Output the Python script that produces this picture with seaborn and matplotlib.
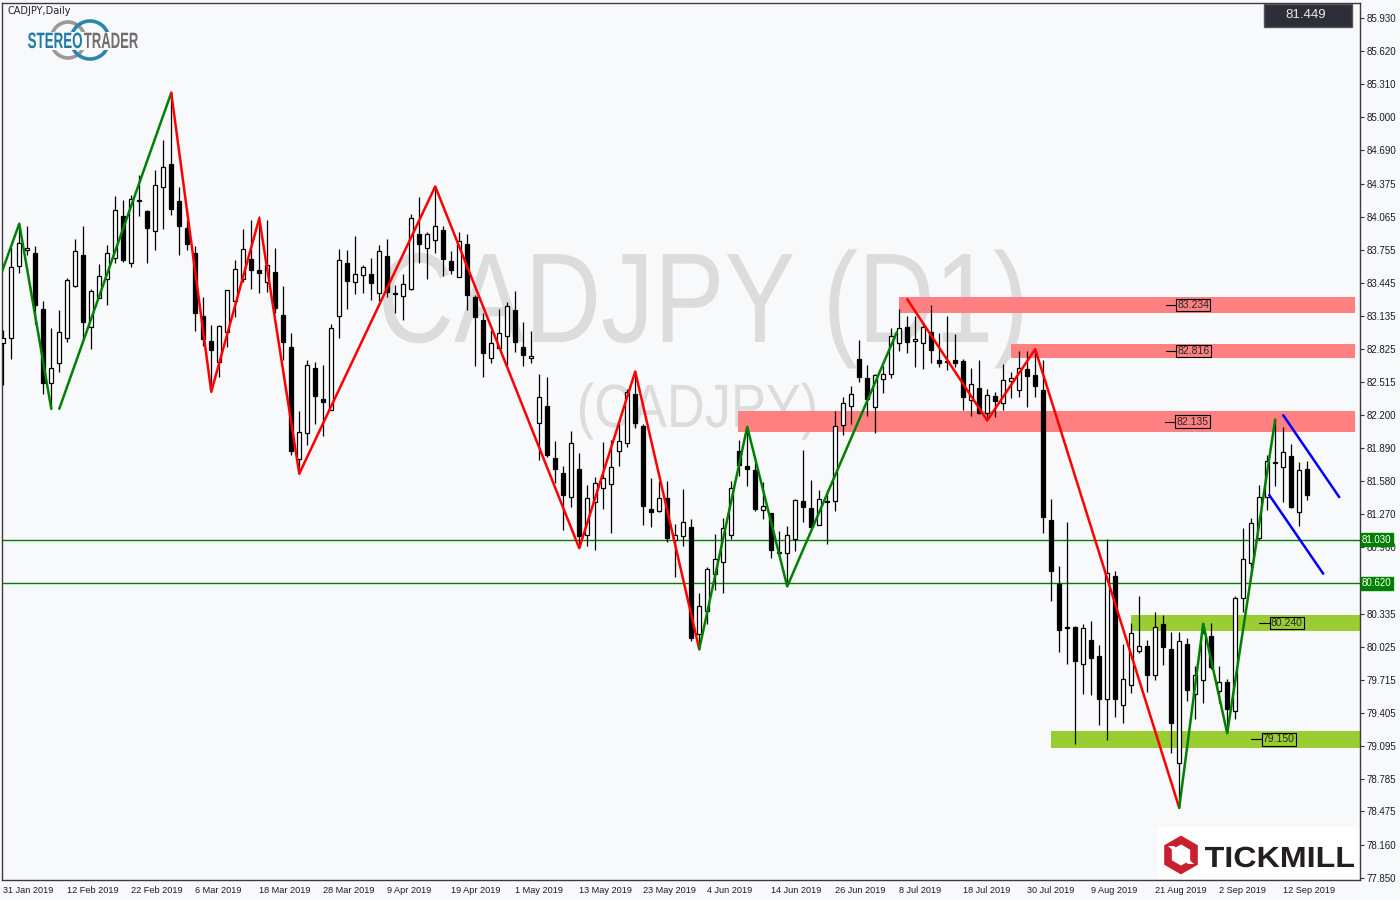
import numpy as np
import pandas as pd
import seaborn as sns
import matplotlib.pyplot as plt
from matplotlib.textpath import TextPath
from matplotlib.font_manager import FontProperties
from matplotlib.patches import PathPatch, Rectangle, Ellipse, Polygon
from matplotlib.transforms import Affine2D, blended_transform_factory

# ---- daily CADJPY candles, 31 Jan 2019 .. 17 Sep 2019 ----
opens = [82.88, 82.93, 83.60, 83.75, 83.72, 83.20, 82.50, 82.69, 82.93, 83.41,
         83.71, 83.03, 83.30, 83.48, 83.68, 84.07, 83.63, 84.21, 84.12, 83.93,
         84.34, 84.56, 84.21, 83.96, 83.72, 83.13, 82.90, 82.70, 82.98, 83.27,
         83.48, 83.67, 83.56, 83.45, 83.55, 83.14, 82.84, 81.79, 82.03, 82.64,
         82.35, 82.25, 83.13, 83.63, 83.45, 83.52, 83.53, 83.35, 83.70, 83.35,
         83.32, 83.39, 83.90, 83.77, 83.85, 83.94, 83.65, 83.50, 83.81, 83.31,
         83.09, 82.74, 82.83, 82.94, 83.19, 82.84, 82.74, 82.13, 82.29, 81.80,
         81.66, 81.43, 81.69, 81.07, 81.38, 81.52, 81.55, 81.86, 81.94, 82.40,
         82.10, 81.32, 81.30, 81.42, 81.03, 81.06, 81.15, 80.14, 80.36, 80.71,
         80.82, 81.07, 81.86, 81.72, 81.68, 81.31, 81.28, 80.91, 80.90, 81.04,
         81.39, 81.33, 81.17, 81.39, 81.39, 82.11, 82.29, 82.73, 82.55, 82.28,
         82.54, 82.59, 82.88, 83.03, 82.90, 82.88, 82.98, 82.72, 82.71, 82.72,
         82.71, 82.34, 82.46, 82.22, 82.38, 82.31, 82.52, 82.44, 82.63, 82.58,
         82.44, 81.21, 80.61, 80.21, 80.21, 79.86, 80.09, 79.94, 79.53, 80.69,
         79.48, 79.66, 79.98, 80.03, 79.76, 80.24, 80.00, 78.93, 80.05, 79.58,
         79.71, 80.12, 79.61, 79.69, 79.42, 80.48, 80.81, 81.05, 81.43, 81.76,
         81.71, 81.82, 81.29, 81.69]
highs = [83.00, 83.78, 84.00, 83.98, 83.79, 83.27, 83.02, 83.19, 83.49, 83.86,
         83.98, 83.39, 83.62, 83.80, 84.26, 84.22, 84.27, 84.46, 84.13, 84.50,
         84.79, 85.23, 84.34, 84.03, 83.79, 83.31, 83.05, 83.05, 83.38, 83.66,
         83.95, 84.03, 84.07, 84.03, 83.77, 83.41, 82.97, 82.24, 82.72, 82.70,
         82.67, 83.06, 83.76, 83.75, 83.88, 83.61, 83.68, 83.80, 83.86, 83.42,
         83.53, 84.09, 84.25, 83.92, 84.35, 83.98, 83.74, 83.92, 83.90, 83.33,
         83.16, 83.00, 83.20, 83.26, 83.37, 83.08, 82.99, 82.59, 82.56, 81.96,
         81.72, 82.05, 81.84, 81.54, 81.62, 81.95, 81.97, 82.12, 82.45, 82.61,
         82.12, 81.61, 81.58, 81.58, 81.18, 81.51, 81.22, 80.53, 80.77, 81.08,
         81.23, 81.58, 81.97, 82.09, 81.75, 81.57, 81.28, 81.11, 81.16, 81.41,
         81.87, 81.59, 81.50, 81.50, 82.24, 82.37, 82.47, 82.91, 82.67, 82.59,
         82.66, 83.02, 83.20, 83.13, 83.13, 83.08, 83.24, 82.97, 83.13, 82.96,
         82.73, 82.64, 82.72, 82.45, 82.42, 82.68, 82.61, 82.80, 82.80, 82.82,
         82.72, 81.41, 80.78, 81.20, 80.22, 80.24, 80.27, 80.04, 81.04, 80.74,
         80.05, 80.25, 80.50, 80.09, 80.35, 80.32, 80.16, 80.16, 80.11, 79.84,
         80.25, 80.25, 79.84, 79.72, 80.50, 81.14, 81.23, 81.54, 81.83, 82.16,
         82.09, 81.93, 81.76, 81.77]
lows = [82.48, 82.73, 83.54, 83.71, 83.06, 82.40, 82.26, 82.61, 82.89, 83.40,
        82.91, 82.82, 83.30, 83.24, 83.63, 83.64, 83.59, 84.07, 83.63, 83.75,
        83.95, 84.08, 83.71, 83.75, 82.99, 82.85, 82.42, 82.56, 82.84, 83.12,
        83.45, 83.39, 83.35, 83.36, 83.16, 82.72, 81.83, 81.65, 81.92, 82.12,
        82.00, 82.25, 82.93, 83.20, 83.34, 83.35, 83.28, 83.27, 83.31, 83.16,
        83.09, 83.38, 83.63, 83.48, 83.72, 83.51, 83.53, 83.50, 83.19, 82.66,
        82.56, 82.69, 82.83, 82.66, 82.79, 82.66, 82.69, 81.78, 81.81, 81.56,
        81.12, 81.34, 80.95, 80.97, 80.93, 81.32, 81.09, 81.72, 81.90, 82.08,
        81.17, 81.15, 81.29, 81.01, 80.68, 80.97, 80.08, 80.00, 80.24, 80.56,
        80.53, 81.04, 81.63, 81.53, 81.30, 81.22, 80.86, 80.88, 80.60, 80.92,
        81.20, 81.14, 81.17, 80.99, 81.30, 82.01, 82.12, 82.51, 82.19, 82.03,
        82.41, 82.55, 82.80, 82.78, 82.65, 82.63, 82.69, 82.65, 82.62, 82.65,
        82.25, 82.19, 82.21, 82.15, 82.18, 82.25, 82.36, 82.37, 82.28, 82.37,
        81.09, 80.45, 79.97, 79.86, 79.11, 79.58, 79.57, 79.29, 79.15, 79.36,
        79.31, 79.59, 79.96, 79.60, 79.71, 79.85, 79.02, 78.51, 79.51, 79.34,
        79.49, 79.81, 79.49, 79.22, 79.34, 80.35, 80.71, 81.03, 81.31, 81.53,
        81.38, 81.33, 81.16, 81.40]
closes = [82.93, 83.59, 83.82, 83.77, 83.24, 82.50, 82.64, 82.98, 83.47, 83.74,
          83.08, 83.37, 83.51, 83.72, 84.13, 83.66, 84.23, 84.22, 83.96, 84.36,
          84.53, 84.14, 83.98, 83.81, 83.16, 82.92, 82.81, 83.04, 83.38, 83.57,
          83.76, 83.56, 83.54, 83.61, 83.21, 82.89, 81.86, 82.04, 82.67, 82.38,
          82.32, 83.02, 83.66, 83.46, 83.53, 83.59, 83.44, 83.74, 83.36, 83.34,
          83.43, 84.05, 83.81, 83.90, 83.98, 83.67, 83.56, 83.84, 83.33, 83.12,
          82.78, 82.88, 82.97, 83.23, 82.89, 82.77, 82.76, 82.37, 81.83, 81.69,
          81.45, 81.94, 81.06, 81.42, 81.56, 81.61, 81.71, 81.96, 82.42, 82.13,
          81.35, 81.29, 81.42, 81.05, 81.07, 81.20, 80.11, 80.41, 80.75, 80.85,
          81.14, 81.52, 81.73, 81.69, 81.32, 81.35, 80.93, 80.90, 81.07, 81.40,
          81.34, 81.15, 81.41, 81.38, 82.10, 82.31, 82.40, 82.56, 82.35, 82.58,
          82.59, 82.94, 83.02, 82.89, 82.92, 83.03, 82.81, 82.69, 82.70, 82.69,
          82.37, 82.49, 82.22, 82.39, 82.33, 82.53, 82.55, 82.64, 82.57, 82.47,
          81.24, 80.74, 80.18, 80.20, 79.89, 80.20, 79.92, 79.53, 80.72, 79.53,
          79.72, 80.15, 80.03, 79.76, 80.21, 80.02, 79.31, 80.08, 79.62, 79.76,
          80.15, 79.83, 79.69, 79.44, 80.48, 80.85, 81.19, 81.43, 81.77, 81.75,
          81.85, 81.34, 81.68, 81.45]

# x tick labels every 8 bars
date_labels = ['31 Jan 2019', '12 Feb 2019', '22 Feb 2019', '6 Mar 2019', '18 Mar 2019',
               '28 Mar 2019', '9 Apr 2019', '19 Apr 2019', '1 May 2019', '13 May 2019',
               '23 May 2019', '4 Jun 2019', '14 Jun 2019', '26 Jun 2019', '8 Jul 2019',
               '18 Jul 2019', '30 Jul 2019', '9 Aug 2019', '21 Aug 2019', '2 Sep 2019',
               '12 Sep 2019']
price_ticks = [85.930, 85.620, 85.310, 85.000, 84.690, 84.375, 84.065, 83.755, 83.445,
               83.135, 82.825, 82.515, 82.200, 81.890, 81.580, 81.270, 80.960, 80.650,
               80.335, 80.025, 79.715, 79.405, 79.095, 78.785, 78.475, 78.160, 77.850]
hidden_tick = 80.650  # label sits under the 80.620 marker

# analyst swing lines: (bar, price) pivots
swing_lines = {
    'g1': ('#008000', [(-0.16, 83.55), (2, 84.00), (6, 82.26)]),
    'g2': ('#008000', [(7, 82.26), (21, 85.23)]),
    'r1': ('#ff0000', [(21, 85.23), (26, 82.42), (32, 84.05), (37, 81.65), (54, 84.35),
                       (72, 80.95), (79, 82.61), (87, 80.00)]),
    'g3': ('#008000', [(87, 80.00), (93, 82.09), (98, 80.59), (111.7, 82.98)]),
    'r2': ('#ff0000', [(113, 83.29), (123, 82.15), (129, 82.82), (147, 78.51)]),
    'g4': ('#008000', [(147, 78.51), (150, 80.24), (153, 79.21), (159, 82.16)]),
    'b1': ('#0000ff', [(160, 82.20), (167, 81.43)]),
    'b2': ('#0000ff', [(158.25, 81.45), (165, 80.71)]),
}

# resistance / support zones: (start bar, low, high, label, label bar)
red_zones = [(112.0, 83.16, 83.31, '83.234', 146.6),
             (126.0, 82.74, 82.87, '82.816', 146.6),
             (91.8, 82.04, 82.24, '82.135', 146.5)]
green_zones = [(141.0, 80.175, 80.32, '80.240', 158.3),
               (131.0, 79.075, 79.23, '79.150', 157.3)]
hlines = [81.030, 80.620]
last_price = '81.449'

W, H = 1400, 900
BG = '#f8f9fb'

sns.set_style('white', rc={'axes.facecolor': BG, 'figure.facecolor': BG})
plt.rcParams['font.family'] = ['Liberation Sans', 'DejaVu Sans']

fig = plt.figure(figsize=(W / 100, H / 100), dpi=100)
ax = fig.add_axes([2 / W, 20 / H, 1358 / W, 877 / H])

n = len(opens)
x = np.arange(n)
ohlc = pd.DataFrame({'x': x, 'o': opens, 'h': highs, 'l': lows, 'c': closes})


def stretched(s, x0, x1, base, cap, color, weight='normal', z=0.1, target=None):
    # text fitted into a pixel box (width by x0..x1, height by cap size)
    tp = TextPath((0, 0), s, size=1, prop=FontProperties(family='Liberation Sans', weight=weight))
    ext = tp.get_extents()
    sx = (x1 - x0) / ext.width
    sy = cap / 0.72
    tr = (Affine2D().translate(-ext.x0, 0).scale(sx, sy).translate(x0, H - base)
          .scale(1 / W, 1 / H) + fig.transFigure)
    p = PathPatch(tp, transform=tr, facecolor=color, edgecolor='none', zorder=z)
    (target or fig).add_artist(p)
    return p


# watermark
stretched('CADJPY (D1)', 383, 1022, 342, 92, '#dcdcdc', target=ax)
stretched('(CADJPY)', 580, 815, 427, 44, '#dcdcdc', target=ax)

# zones
for x0, lo, hi, lab, lx in red_zones + green_zones:
    col = '#ff8080' if (x0, lo, hi, lab, lx) in red_zones else '#9acd32'
    x1 = 169.0 if col == '#ff8080' else 169.6
    ax.add_patch(Rectangle((x0, lo), x1 - x0, hi - lo, facecolor=col, edgecolor='none', zorder=1))
    mid = (lo + hi) / 2
    ax.plot([lx - 1.3, lx], [mid, mid], color='black', lw=0.8, zorder=6)
    ax.text(lx + 0.15, mid, lab, fontsize=7.5, va='center', ha='left', zorder=7,
            bbox=dict(boxstyle='square,pad=0.12', facecolor='none', edgecolor='black', lw=0.8))

# horizontal levels
ytr = blended_transform_factory(ax.transAxes, ax.transData)
for lvl in hlines:
    ax.axhline(lvl, color='#008000', lw=1, zorder=2)
    ax.text(1.0015, lvl, f'{lvl:.3f}', transform=ytr, fontsize=7, color='white', va='center',
            ha='left', clip_on=False, zorder=10,
            bbox=dict(boxstyle='square,pad=0.15', facecolor='#008000', edgecolor='#008000'))

# candles
ax.vlines(ohlc['x'], ohlc['l'], ohlc['h'], color='black', lw=0.9, zorder=3)
up = ohlc['c'] >= ohlc['o']
body = (ohlc['c'] - ohlc['o']).abs().clip(lower=0.004)
ax.bar(ohlc['x'][up], body[up], bottom=ohlc['o'][up], width=0.55, color='white',
       edgecolor='black', lw=0.9, zorder=4)
ax.bar(ohlc['x'][~up], body[~up], bottom=ohlc['c'][~up], width=0.55, color='black',
       edgecolor='black', lw=0.9, zorder=4)

# swing lines
rows = []
for key, (col, pts) in swing_lines.items():
    for i, (bx, pr) in enumerate(pts):
        rows.append({'seg': key, 'order': i, 'bar': bx, 'price': pr})
seg_df = pd.DataFrame(rows)
palette = {k: v[0] for k, v in swing_lines.items()}
sns.lineplot(data=seg_df, x='bar', y='price', hue='seg', units='seg', estimator=None,
             sort=False, palette=palette, lw=1.8, legend=False, ax=ax, zorder=5)

# axes
ax.set_xlim(-0.16, 169.6)
ax.set_ylim(77.831, 86.074)
ax.set_xlabel('')
ax.set_ylabel('')
ax.set_xticks(np.arange(0, 8 * len(date_labels), 8))
ax.set_xticklabels(date_labels, ha='left', fontsize=6.6, color='#1a1a2a')
ax.yaxis.tick_right()
ax.set_yticks(price_ticks)
ax.set_yticklabels(['' if v == hidden_tick else f'{v:.3f}' for v in price_ticks],
                   fontsize=7, color='#1a1a2a')
ax.tick_params(axis='both', direction='out', length=3, width=0.8, color='#333333', pad=2)
ax.tick_params(axis='x', pad=1)
for sp in ax.spines.values():
    sp.set_visible(True)
    sp.set_color('#3c3c3c')
    sp.set_linewidth(1)

# header / logos
fig.text(8 / W, 1 - 11 / H, 'CADJPY,Daily', fontsize=7, color='#222222', va='center',
         family=['DejaVu Sans'])
fig.add_artist(Ellipse((68 / W, 1 - 40 / H), 34 / W, 36 / H, facecolor='none',
                       edgecolor='#9a9a9a', lw=2.6, zorder=3))
fig.add_artist(Ellipse((90 / W, 1 - 40 / H), 38 / W, 38 / H, facecolor='none',
                       edgecolor='#2a86ad', lw=2.6, zorder=3))
fig.add_artist(Rectangle((27 / W, 1 - 50 / H), 112 / W, 18 / H, facecolor=BG,
                         edgecolor='none', zorder=3.5))
stretched('STEREO', 28, 82, 48, 16, '#1f7ba3', weight='bold', z=4)
stretched('TRADER', 84, 138, 48, 16, '#6e6e6e', weight='bold', z=4)

# price box
fig.add_artist(Rectangle((1264 / W, 1 - 27 / H), 88 / W, 23 / H, facecolor='#2e2e38',
                         edgecolor='#55555f', lw=1, zorder=5))
fig.text(1306 / W, 1 - 15 / H, last_price, fontsize=9.5, color='#e8e8e8', ha='center',
         va='center', zorder=6)

# tickmill
fig.add_artist(Rectangle((1158 / W, 1 - 879 / H), 201 / W, 52 / H, facecolor='white',
                         edgecolor='none', zorder=5))
ang = np.deg2rad(np.arange(6) * 60 + 30)
hexv = np.column_stack([(1181 + 15 * np.cos(ang)) / W, 1 - (855 + 15 * np.sin(ang)) / H])
fig.add_artist(Polygon(hexv, closed=True, facecolor='none', edgecolor='#c8202f', lw=5.5,
                       joinstyle='miter', zorder=6))
fig.add_artist(Polygon([(1168 / W, 1 - 846 / H), (1174 / W, 1 - 846 / H),
                        (1194 / W, 1 - 864 / H), (1188 / W, 1 - 864 / H)], closed=True,
                       facecolor='white', edgecolor='none', zorder=7))
stretched('TICKMILL', 1205, 1354, 867, 21, '#231f20', weight='bold', z=6)

fig.savefig('out.png', dpi=100, facecolor=BG)
